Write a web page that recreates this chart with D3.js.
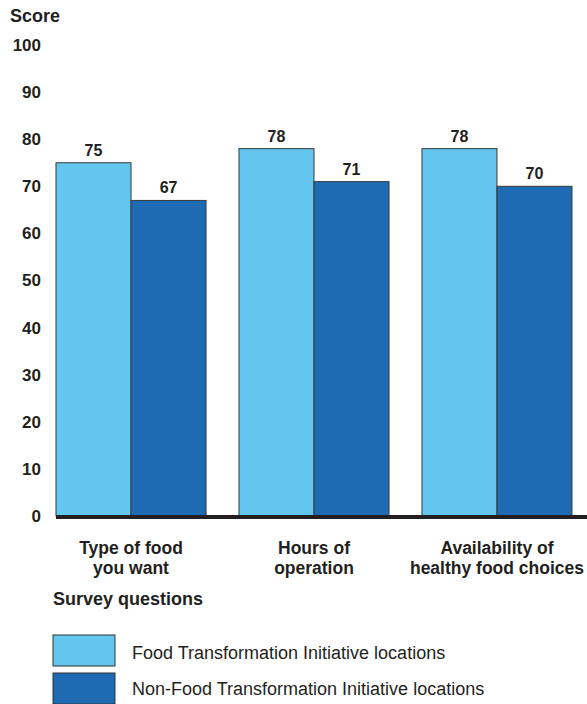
<!DOCTYPE html>
<html lang="en">

<head>
    <meta charset="UTF-8">
    <title>Survey Scores</title>
    <script src="https://d3js.org/d3.v7.min.js"></script>
    <style>
        body { margin: 0; background: #fff; }
        svg { font-family: "Liberation Sans", Arial, sans-serif; }
        .tick text { font-size: 17px; font-weight: bold; fill: #231f20; }
    </style>
</head>

<body>
    <svg id="chart" width="587" height="704"></svg>

    <script>
        // chart data
        const categories = ["Type of food you want", "Hours of operation", "Availability of healthy food choices"];
        const categoryLines = [["Type of food", "you want"], ["Hours of", "operation"], ["Availability of", "healthy food choices"]];
        const seriesNames = ["Food Transformation Initiative locations", "Non-Food Transformation Initiative locations"];
        const ftiValues = [75, 78, 78];
        const nonFtiValues = [67, 71, 70];
        const yTicks = [0, 10, 20, 30, 40, 50, 60, 70, 80, 90, 100];

        const colors = ["#63c6ef", "#1f6bb3"];
        const data = categories.map((c, i) => ({ cat: c, values: [ftiValues[i], nonFtiValues[i]] }));

        const svg = d3.select("#chart");
        const textColor = "#231f20";

        // scales
        const x = d3.scaleBand()
            .domain(categories)
            .range([56, 572])
            .paddingInner(0.18)
            .paddingOuter(0);

        const xs = d3.scaleBand()
            .domain(seriesNames)
            .range([0, x.bandwidth()]);

        const y = d3.scaleLinear()
            .domain([0, 100])
            .range([516, 45]);

        // y axis labels only
        svg.append("g")
            .attr("transform", "translate(41,0)")
            .call(d3.axisLeft(y).tickValues(yTicks).tickSize(0).tickPadding(0))
            .call(g => g.select(".domain").remove());

        svg.append("text")
            .attr("x", 10)
            .attr("y", 22)
            .text("Score")
            .style("font-size", "18px")
            .style("font-weight", "bold")
            .attr("fill", textColor);

        // bars
        const groups = svg.selectAll(".group")
            .data(data)
            .enter().append("g")
            .attr("class", "group")
            .attr("transform", d => `translate(${x(d.cat)},0)`);

        groups.selectAll("rect")
            .data(d => d.values.map((v, i) => ({ name: seriesNames[i], value: v, i })))
            .enter().append("rect")
            .attr("x", d => xs(d.name))
            .attr("y", d => y(d.value))
            .attr("width", xs.bandwidth())
            .attr("height", d => y(0) - y(d.value))
            .attr("fill", d => colors[d.i])
            .attr("stroke", "#3a3a3a")
            .attr("stroke-width", 1);

        groups.selectAll(".val")
            .data(d => d.values.map((v, i) => ({ name: seriesNames[i], value: v })))
            .enter().append("text")
            .attr("class", "val")
            .attr("x", d => xs(d.name) + xs.bandwidth() / 2)
            .attr("y", d => y(d.value) - 7)
            .attr("text-anchor", "middle")
            .text(d => d.value)
            .style("font-size", "16px")
            .style("font-weight", "bold")
            .attr("fill", textColor);

        // baseline
        svg.append("line")
            .attr("x1", 56)
            .attr("x2", 587)
            .attr("y1", y(0) + 1)
            .attr("y2", y(0) + 1)
            .attr("stroke", "#231f20")
            .attr("stroke-width", 4);

        // category labels
        categories.forEach((c, i) => {
            const t = svg.append("text")
                .attr("text-anchor", "middle")
                .style("font-size", "17.5px")
                .style("font-weight", "bold")
                .attr("fill", textColor);
            categoryLines[i].forEach((line, j) => {
                t.append("tspan")
                    .attr("x", x(c) + x.bandwidth() / 2)
                    .attr("y", 554 + j * 20)
                    .text(line);
            });
        });

        svg.append("text")
            .attr("x", 53)
            .attr("y", 605)
            .text("Survey questions")
            .style("font-size", "18px")
            .style("font-weight", "bold")
            .attr("fill", textColor);

        // legend
        const legend = svg.append("g").attr("transform", "translate(53,635)");
        seriesNames.forEach((name, i) => {
            legend.append("rect")
                .attr("x", 0)
                .attr("y", i * 38)
                .attr("width", 62)
                .attr("height", 31)
                .attr("fill", colors[i])
                .attr("stroke", "#333")
                .attr("stroke-width", 1);
            legend.append("text")
                .attr("x", 79)
                .attr("y", i * 36 + 19)
                .attr("dominant-baseline", "middle")
                .text(name)
                .style("font-size", "18px")
                .attr("fill", textColor);
        });
    </script>
</body>

</html>
